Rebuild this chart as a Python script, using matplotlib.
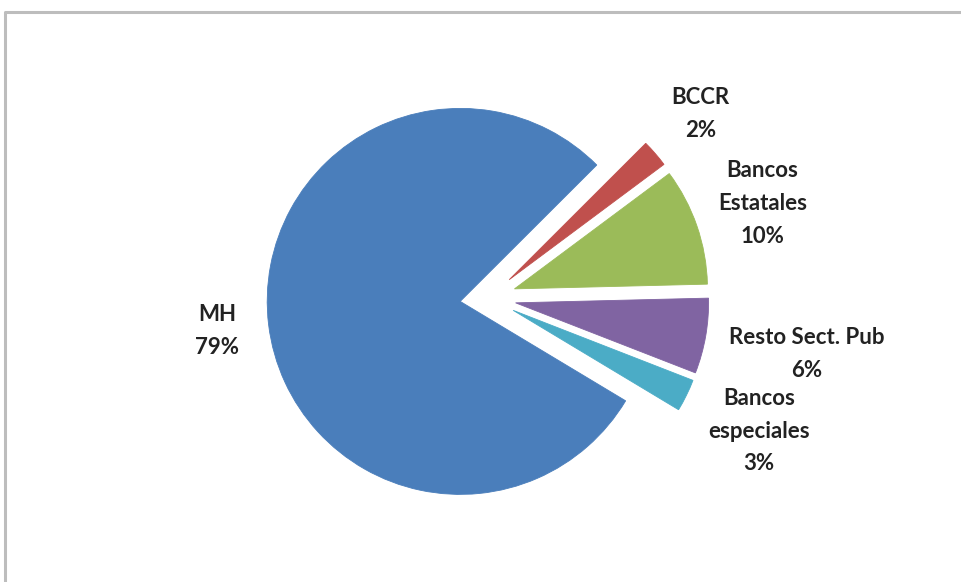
import numpy as np
import matplotlib.pyplot as plt

# Datos (porcentajes aproximados)
categorias = ['MH', 'BCCR', 'Bancos\nEstatales', 'Resto Sect. Pub', 'Bancos\nespeciales']
valores = [78.9, 2.3, 9.8, 6.3, 2.7]
colores = ['#4A7EBB', '#C0504D', '#9BBB59', '#8064A2', '#4BACC6']
dist_etiquetas = [1.27, 1.31, 1.36, 1.53, 1.42]

W, H = 961, 582
fig = plt.figure(figsize=(W / 100, H / 100), dpi=100)
ax = fig.add_axes([0, 0, 1, 1])

radio = 193
centro = (488, H - 298)
explode = [28] * len(valores)  # en unidades de datos (px)

wedges, _ = ax.pie(valores, colors=colores, explode=explode, startangle=-31,
                   counterclock=False, radius=radio, center=centro,
                   wedgeprops=dict(linewidth=0.6))
for w, c in zip(wedges, colores):
    w.set_edgecolor(c)

# los limites se fijan despues de pie (pie los reescribe)
ax.set_xlim(0, W)
ax.set_ylim(0, H)
ax.set_aspect('equal')
ax.axis('off')

total = sum(valores)
for w, nombre, v, d in zip(wedges, categorias, valores, dist_etiquetas):
    ang = np.deg2rad((w.theta1 + w.theta2) / 2)
    cx, cy = w.center
    x = cx + d * radio * np.cos(ang)
    y = cy + d * radio * np.sin(ang)
    ax.text(x, y, f'{nombre}\n{v / total * 100:.0f}%', ha='center', va='center',
            fontsize=16, fontweight='bold', color='#222222', family='Lato',
            linespacing=1.7)

# marco gris del area del grafico
ax.plot([4.5, 4.5, W], [0, H - 11.5, H - 11.5], color='#bdbdbd', lw=2.2,
        solid_capstyle='butt')

fig.savefig('out.png', dpi=100)
